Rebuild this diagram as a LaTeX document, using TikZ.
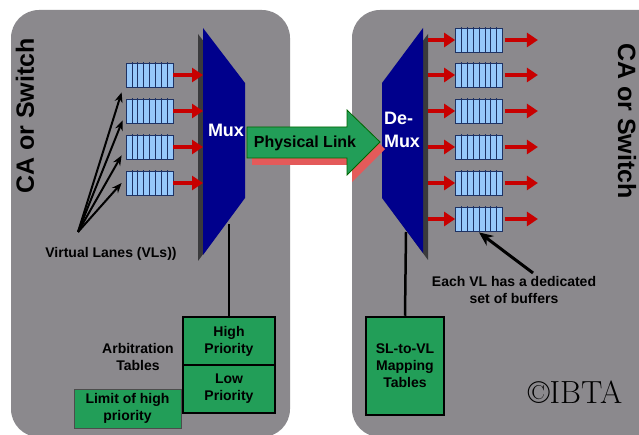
\documentclass[tikz,border=0pt]{standalone}
\usepackage{fontspec}
\setsansfont{Liberation Sans}
\usetikzlibrary{arrows.meta,calc}
\definecolor{panel}{RGB}{139,137,141}
\definecolor{muxblue}{RGB}{0,0,140}
\definecolor{muxshadow}{RGB}{58,58,60}
\definecolor{boxgreen}{RGB}{34,158,88}
\definecolor{buflight}{RGB}{150,200,250}
\definecolor{bufedge}{RGB}{30,50,100}
\definecolor{arrowred}{RGB}{200,0,0}
\definecolor{shadowred}{RGB}{228,90,90}
\tikzset{
  buffer/.style={draw=bufedge, fill=buflight, line width=0.8pt,
    minimum width=47pt, minimum height=24pt, inner sep=0pt,
    path picture={\foreach \i in {1,...,7}{
      \draw[bufedge,line width=0.6pt]
        ($(path picture bounding box.south west)!\i/8!(path picture bounding box.south east)$) -- ++(0,30pt);}}},
  redarrow/.style={draw=arrowred, line width=4.5pt, -{Triangle[length=11pt,width=14pt]}},
  vlarrow/.style={draw=black, line width=2pt, -{Stealth[length=10pt,width=8pt]}},
  bigarrow/.style={draw=black, line width=3pt, -{Stealth[length=14pt,width=12pt]}},
  txt/.style={align=center, text=black, font=\sffamily\bfseries\fontsize{14}{17}\selectfont, inner sep=0pt},
  greenbox/.style={txt, fill=boxgreen, draw=black, line width=2.5pt},
  thinbox/.style={txt, fill=boxgreen, draw=black!70, line width=0.8pt},
  sidelabel/.style={text=black, font=\sffamily\bfseries\fontsize{25}{30}\selectfont, inner sep=0pt},
  muxlabel/.style={text=white, align=left, font=\sffamily\bfseries\fontsize{18}{23}\selectfont, inner sep=0pt},
}
\begin{document}
\begin{tikzpicture}[x=1pt,y=-1pt]
\useasboundingbox (0,0) rectangle (639,435);
\clip (0,0) rectangle (639,435);
\fill[white] (0,0) rectangle (639,435);
% panels
\fill[panel, rounded corners=28pt] (11,10) rectangle (290,437);
\fill[panel, rounded corners=28pt] (352,10) rectangle (690,437);
% side labels
\node[sidelabel, rotate=90] (caL) at (25,116) {CA or Switch};
\node[sidelabel, rotate=-90] (caR) at (627,121) {CA or Switch};
% Mux
\fill[muxshadow] (198,34) -- (240,89) -- (240,204) -- (198,261) -- cycle;
\fill[muxblue] (203,28) -- (245,83) -- (245,198) -- (203,255) -- cycle;
\node[muxlabel] (muxlab) at (226,130) {Mux};
\coordinate (muxL) at (203,0);
\coordinate (muxbot) at (229,224);
% DeMux
\fill[muxshadow] (428,34) -- (387,89) -- (387,204) -- (428,260) -- cycle;
\fill[muxblue] (423,28) -- (382,83) -- (382,198) -- (423,253) -- cycle;
\node[muxlabel] (demuxlab) at (402,130) {De-\\Mux};
\coordinate (demuxR) at (428,0);
\coordinate (demuxbot) at (406,232);
% left buffers
\node[buffer] (L1) at (149.5,75) {};
\node[buffer] (L2) at (149.5,111) {};
\node[buffer] (L3) at (149.5,147) {};
\node[buffer] (L4) at (149.5,183) {};
\foreach \n in {L1,L2,L3,L4}{
  \draw[redarrow] (\n.east) -- (\n.east -| muxL);
}
% VL arrows
\coordinate (vlsrc) at (78,232);
\draw[vlarrow] (vlsrc) -- ($(L1.south west)+(-4,5)$);
\draw[vlarrow] (vlsrc) -- ($(L2.south west)+(-3,-3)$);
\draw[vlarrow] (vlsrc) -- ($(L3.south west)+(-4,-4)$);
\draw[vlarrow] (vlsrc) -- ($(L4.west)+(-4,0)$);
\node[txt] (vllab) at (111,254) {Virtual Lanes (VLs))};
% right buffers
\node[buffer] (R1) at (479,40) {};
\node[buffer] (R2) at (479,75) {};
\node[buffer] (R3) at (479,111) {};
\node[buffer] (R4) at (479,147) {};
\node[buffer] (R5) at (479,183) {};
\node[buffer] (R6) at (479,219) {};
\foreach \n in {R1,R2,R3,R4,R5,R6}{
  \draw[redarrow] (\n.west -| demuxR) -- (\n.west);
  \draw[redarrow] ($(\n.east)+(2,0)$) -- ($(\n.east)+(35,0)$);
}
% Physical link arrow
\fill[shadowred, shift={(5,7)}] (247,127) -- (347,127) -- (347,110) -- (380,142) -- (347,175) -- (347,158) -- (247,158) -- cycle;
\draw[fill=boxgreen, draw=black!60!green, line width=0.8pt] (247,127) -- (347,127) -- (347,110) -- (380,142) -- (347,175) -- (347,158) -- (247,158) -- cycle;
\node[txt, font=\sffamily\bfseries\fontsize{16}{19}\selectfont] (plink) at (305,143) {Physical Link};
% arbitration tables
\node[greenbox, minimum width=92pt, minimum height=48pt] (hp) at (229,341) {High\\Priority};
\node[greenbox, minimum width=92pt, minimum height=48pt] (lp) at (229,389) {Low\\Priority};
\draw[line width=2.5pt] (muxbot) -- (hp.north);
\node[txt] (arb) at (138,357) {Arbitration\\Tables};
\node[thinbox, minimum width=107pt, minimum height=39pt] (lim) at (127.5,408.5) {Limit of high\\priority};
% SL-to-VL
\node[greenbox, minimum width=78pt, minimum height=98pt] (sl) at (405,366) {SL-to-VL\\Mapping\\Tables};
\draw[line width=2.5pt] (demuxbot) -- (sl.north);
% buffers note
\node[txt] (note) at (514,290) {Each VL has a dedicated\\set of buffers};
\coordinate (notearrow) at (533,273);
\draw[bigarrow] (notearrow) -- ($(R6.south)+(0,1)$);
% copyright
\node[text=black, font=\rmfamily\mdseries\fontsize{32}{38}\selectfont, inner sep=0pt] (ibta) at (575,392) {\textcopyright IBTA};
\end{tikzpicture}
\end{document}
